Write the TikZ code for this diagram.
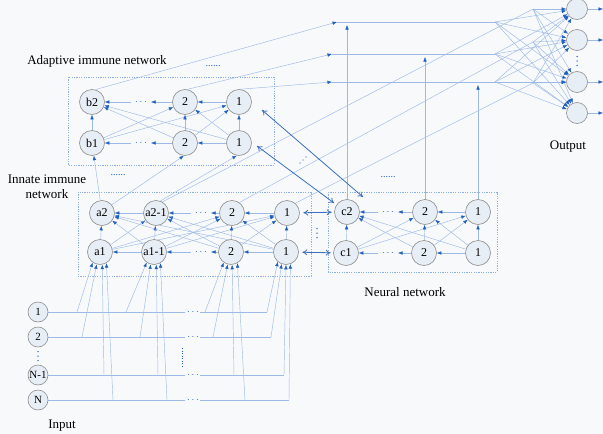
\documentclass[tikz,border=0pt]{standalone}
\usepackage{fontspec}
\setmainfont{Liberation Serif}
\usetikzlibrary{arrows.meta,calc}
\definecolor{lnb}{HTML}{9DB9E6}
\definecolor{tipb}{HTML}{1F5FBF}
\definecolor{nfill}{HTML}{E8EEF6}
\definecolor{nbord}{HTML}{8E8E8E}
\definecolor{dkb}{HTML}{3A6EC0}
\definecolor{boxb}{HTML}{8FB0E0}
\definecolor{bgc}{HTML}{F8F9FB}
\pgfdeclarelayer{bgl}
\pgfsetlayers{bgl,main}
\begin{document}
\begin{tikzpicture}[x=1pt,y=-1pt,
  ln/.style={draw=lnb,line width=0.45pt},
  arr/.style={ln,-{Latex[length=4.5pt,width=3.5pt,color=tipb]}},
  nd/.style={circle,draw=nbord,fill=nfill,line width=0.6pt,minimum size=25pt,inner sep=0pt,font=\fontsize{12}{12}\selectfont},
  sn/.style={nd,minimum size=20pt,font=\fontsize{11}{11}\selectfont},
  on/.style={nd,minimum size=21pt},
  bx/.style={draw=boxb,line width=0.5pt,dash pattern=on 1.2pt off 1.2pt},
  dbl/.style={draw=dkb,line width=0.8pt,{To[length=5pt,width=6pt]}-{To[length=5pt,width=6pt]}},
  lab/.style={font=\fontsize{13}{15}\selectfont,align=center,inner sep=0pt},
  dotsb/.style={text=tipb,font=\fontsize{10}{10}\selectfont,inner sep=0pt},
  dotc/.style={fill=tipb},
]
\begin{pgfonlayer}{bgl}
\fill[bgc] (0,0) rectangle (603,434);
\end{pgfonlayer}
\useasboundingbox (0,0) rectangle (603,434);

% boxes
\begin{pgfonlayer}{bgl}
\draw[bx] (68,77) rectangle (274,165);
\draw[bx] (78,192) rectangle (311,276);
\draw[bx] (328,192) rectangle (497,272);
\end{pgfonlayer}

% adaptive nodes
\node[nd] (b2) at (92,102) {b2};
\node[nd] (ad2t) at (185,102) {2};
\node[nd] (ad1t) at (239,102) {1};
\node[nd] (b1) at (92,143) {b1};
\node[nd] (ad2b) at (185,143) {2};
\node[nd] (ad1b) at (239,143) {1};
% innate nodes
\node[nd] (a2) at (102,213) {a2};
\node[nd] (a21) at (156,213) {a2-1};
\node[nd] (i2t) at (232,213) {2};
\node[nd] (i1t) at (287,213) {1};
\node[nd] (a1) at (100,252) {a1};
\node[nd] (a11) at (154,252) {a1-1};
\node[nd] (i2b) at (231,252) {2};
\node[nd] (i1b) at (286,252) {1};
% neural nodes
\node[nd] (c2) at (347,212) {c2};
\node[nd] (n2t) at (425,212) {2};
\node[nd] (n1t) at (478,212) {1};
\node[nd] (c1) at (346,253) {c1};
\node[nd] (n2b) at (424,253) {2};
\node[nd] (n1b) at (478,253) {1};
% inputs
\node[sn] (in1) at (38,312) {1};
\node[sn] (in2) at (38,337) {2};
\node[sn] (in3) at (38,375) {N-1};
\node[sn] (in4) at (38,400) {N};
% outputs
\node[on] (o1) at (577,9) {};
\node[on] (o2) at (577,40) {};
\node[on] (o3) at (577,82) {};
\node[on] (o4) at (577,113) {};
% vertical dots
\foreach \d in {-4.5,0,4.5}{
  \fill[dotc] (38,356+\d) circle (0.75pt);
  \fill[dotc] (577,61+\d) circle (0.75pt);
  \fill[dotc] (317,233+\d) circle (0.75pt);
}

% labels
\node[lab] (tad) at (97,61) {Adaptive immune network};
\node[lab] (tin) at (47,187) {Innate immune\\network};
\node[lab] (tnn) at (405,292) {Neural network};
\node[lab] (tip) at (62,426) {Input};
\node[lab] (top) at (568,147) {Output};
\node[dotsb] (d6a) at (213,66) {......};
\node[dotsb] (d6b) at (118,175) {......};
\node[dotsb] (d6c) at (388,177) {......};

% row dots
\node[dotsb] (rda) at (141,102) {$\cdots$};
\node[dotsb] (rdb) at (141,143) {$\cdots$};
\node[dotsb] (rdc) at (201,213) {$\cdots$};
\node[dotsb] (rdd) at (201,252) {$\cdots$};
\node[dotsb] (rde) at (388,212) {$\cdots$};
\node[dotsb] (rdf) at (388,253) {$\cdots$};

% coordinates
\coordinate (h1s) at (337,22);
\coordinate (h2s) at (332,54);
\coordinate (h3s) at (332,82);
\coordinate (P1) at (495,22);
\coordinate (P2) at (495,54);
\coordinate (P3) at (495,82);
\coordinate (Q1) at (533,9);
\coordinate (Q2) at (533,42);
\coordinate (Q3) at (533,83);
\coordinate (v1) at (347,25);
\coordinate (v2) at (425,57);
\coordinate (v3) at (478,85);
\coordinate (oe1) at (603,9);
\coordinate (oe2) at (603,40);
\coordinate (oe3) at (603,82);
\coordinate (oe4) at (603,113);
\coordinate (d1a) at (262,110);
\coordinate (d1b) at (363,197);
\coordinate (d2a) at (257,146);
\coordinate (d2b) at (334,203);

\begin{pgfonlayer}{bgl}
% bipartite
\foreach \l in {a1,a11,i2b,i1b}{\foreach \u in {a2,a21,i2t,i1t}{\draw[arr] (\l) -- (\u);}}
\foreach \l in {b1,ad2b,ad1b}{\foreach \u in {b2,ad2t,ad1t}{\draw[arr] (\l) -- (\u);}}
\foreach \l in {c1,n2b,n1b}{\foreach \u in {c2,n2t,n1t}{\draw[arr] (\l) -- (\u);}}
% row arrows
\foreach \r/\a/\b/\c in {ad1t/ad2t/rda/b2, ad1b/ad2b/rdb/b1, n1t/n2t/rde/c2, n1b/n2b/rdf/c1}{
  \draw[arr] (\r) -- (\a);
  \draw[arr] (\a) -- ([xshift=4pt]\b.east);
  \draw[arr] ([xshift=-4pt]\b.west) -- (\c);
}
\draw[arr] (i1t) -- (i2t); \draw[arr] (i2t) -- ([xshift=4pt]rdc.east); \draw[arr] ([xshift=-4pt]rdc.west) -- (a21); \draw[arr] (a21) -- (a2);
\draw[arr] (i1b) -- (i2b); \draw[arr] (i2b) -- ([xshift=4pt]rdd.east); \draw[arr] ([xshift=-4pt]rdd.west) -- (a11); \draw[arr] (a11) -- (a1);
% inputs
\foreach \i/\y in {1/312,2/337,3/375,4/400}{
  \coordinate (gl\i) at (185,\y);
  \coordinate (gr\i) at (200,\y);
  \node[dotsb] (gd\i) at (193,\y) {$\cdots$};
}
\coordinate (s11) at (77,312); \coordinate (s21) at (126,312); \coordinate (s31) at (205,312); \coordinate (e1) at (267,312);
\coordinate (s12) at (82,337); \coordinate (s22) at (140,337); \coordinate (s32) at (213,337); \coordinate (e2) at (271,337);
\coordinate (s13) at (104,375); \coordinate (s23) at (158,375); \coordinate (s33) at (234,375); \coordinate (e3) at (284,375);
\coordinate (s14) at (113,400); \coordinate (s24) at (167,400); \coordinate (s34) at (245,400); \coordinate (e4) at (289,400);
\foreach \i in {1,2,3,4}{
  \draw[ln] (in\i) -- (gl\i);
  \draw[ln] (gr\i) -- (e\i);
}
\draw[arr] (s11) -- (a1.235); \draw[arr] (s12) -- (a1.255); \draw[arr] (s13) -- (a1.280); \draw[arr] (s14) -- (a1.300);
\draw[arr] (s21) -- (a11.235); \draw[arr] (s22) -- (a11.255); \draw[arr] (s23) -- (a11.280); \draw[arr] (s24) -- (a11.300);
\draw[arr] (s31) -- (i2b.235); \draw[arr] (s32) -- (i2b.255); \draw[arr] (s33) -- (i2b.275); \draw[arr] (s34) -- (i2b.300);
\draw[arr] (e1) -- (i1b.230); \draw[arr] (e2) -- (i1b.250); \draw[arr] (e3) -- (i1b.270); \draw[arr] (e4) -- (i1b.290);
\draw[tipb,line width=1pt,dash pattern=on 1pt off 1.5pt] (182,348) -- (182,366);
% innate -> adaptive
\draw[arr] (a2) -- (b1);
\draw[arr] (a2.40) -- (ad2b.265);
\draw[arr] (a21.70) -- (ad1b.260);
% long lines to output junctions
\draw[ln] (a21.60) -- (Q1);
\draw[ln] (i2t.55) -- (Q2);
\draw[ln] (i1t.50) -- (Q3);
% adaptive to top lines
\draw[arr] (b2.75) -- (h1s);
\draw[arr] (ad2t.80) -- (h2s);
\draw[arr] (ad1t.85) -- (h3s);
\draw[ln] (h1s) -- (P1);
\draw[ln] (h2s) -- (P2);
\draw[ln] (h3s) -- (P3);
% neural vertical
\draw[arr] (c2) -- (v1);
\draw[arr] (n2t) -- (v2);
\draw[arr] (n1t) -- (v3);
% fans
\foreach \p in {P1,P2,P3,Q1,Q2,Q3}{\foreach \o in {o1,o2,o3,o4}{\draw[arr] (\p) -- (\o);}}
\foreach \i in {1,2,3,4}{\draw[arr] (o\i) -- (oe\i);}
\end{pgfonlayer}

% double arrows
\draw[dbl,shorten <=3.5pt,shorten >=2.5pt] (i1t) -- (c2);
\draw[dbl,shorten <=3.5pt,shorten >=2.5pt] (i1b) -- (c1);
\draw[dbl] (d1a) -- (d1b);
\draw[dbl] (d2a) -- (d2b);
\foreach \t in {0,1,2}{\fill[tipb] ($(300,163)+(\t*3,-\t*3)$) circle (0.6pt);}
\end{tikzpicture}
\end{document}
